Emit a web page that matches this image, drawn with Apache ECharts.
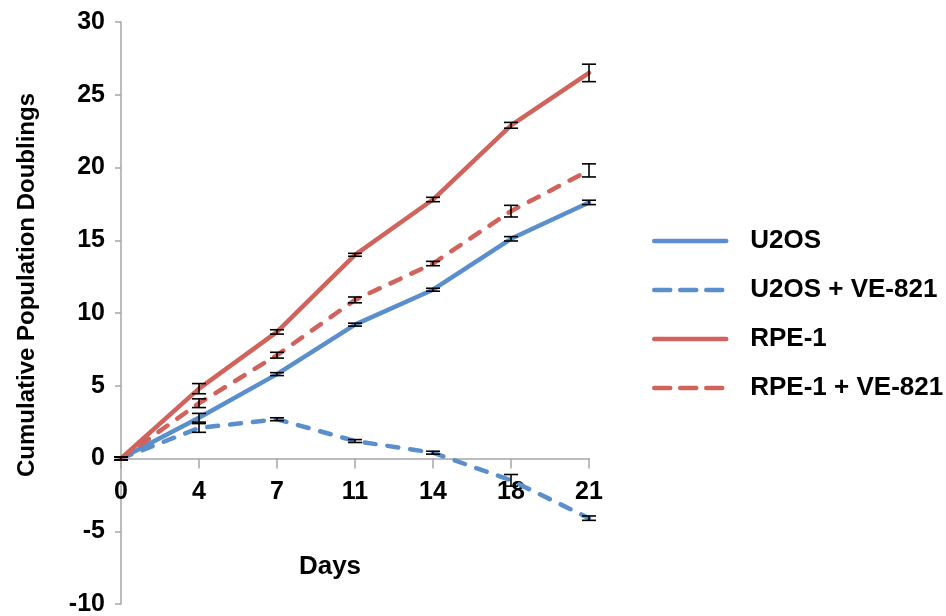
<!DOCTYPE html>
<html>
<head>
<meta charset="utf-8">
<script src="https://cdn.jsdelivr.net/npm/echarts@6/dist/echarts.min.js"></script>
<style>
  html, body { margin: 0; padding: 0; background: #fff; }
  #main { width: 946px; height: 616px; }
</style>
</head>
<body>
<div id="main"></div>
<script>
var days = ['0', '4', '7', '11', '14', '18', '21'];

var u2os = [0, 2.8, 5.8, 9.2, 11.6, 15.1, 17.6];
var u2osErr = [0.1, 0.3, 0.1, 0.1, 0.1, 0.15, 0.15];
var u2osVe = [0, 2.1, 2.7, 1.2, 0.4, -1.5, -4.1];
var u2osVeErr = [0.1, 0.3, 0.1, 0.1, 0.1, 0.4, 0.15];
var rpe = [0, 4.8, 8.7, 14.0, 17.8, 22.9, 26.5];
var rpeErr = [0.1, 0.35, 0.15, 0.1, 0.15, 0.2, 0.6];
var rpeVe = [0, 3.8, 7.1, 10.9, 13.4, 17.0, 19.8];
var rpeVeErr = [0.1, 0.3, 0.2, 0.2, 0.15, 0.4, 0.45];

var blue = '#5b8fcb';
var red = '#d0635b';
var font = 'Liberation Sans, Arial, sans-serif';

function lineSeries(name, data, color, dashed) {
    return {
        name: name,
        type: 'line',
        data: data,
        symbol: 'none',
        z: 3,
        lineStyle: {
            color: color,
            width: 4.5,
            type: dashed ? [11, 12] : 'solid',
            cap: 'round'
        },
        itemStyle: { color: color }
    };
}

function errSeries(vals, errs) {
    var d = [];
    for (var i = 0; i < vals.length; i++) {
        d.push([i, vals[i] - errs[i], vals[i] + errs[i]]);
    }
    return {
        type: 'custom',
        data: d,
        z: 5,
        silent: true,
        renderItem: function (params, api) {
            var lo = api.coord([api.value(0), api.value(1)]);
            var hi = api.coord([api.value(0), api.value(2)]);
            var w = 7;
            var st = { stroke: '#000', lineWidth: 1.6 };
            return {
                type: 'group',
                children: [
                    { type: 'line', shape: { x1: lo[0], y1: lo[1], x2: hi[0], y2: hi[1] }, style: st },
                    { type: 'line', shape: { x1: lo[0] - w, y1: lo[1], x2: lo[0] + w, y2: lo[1] }, style: st },
                    { type: 'line', shape: { x1: hi[0] - w, y1: hi[1], x2: hi[0] + w, y2: hi[1] }, style: st }
                ]
            };
        }
    };
}

var legendDash = { type: [16, 10], width: 4.5, cap: 'round' };

var myChart = echarts.init(document.getElementById('main'));
var option = {
    animation: false,
    backgroundColor: '#fff',
    grid: { left: 121, right: 357, top: 22, bottom: 12, containLabel: false, outerBoundsMode: 'none' },
    legend: {
        orient: 'vertical',
        left: 647,
        top: 223,
        itemWidth: 72,
        itemHeight: 14,
        itemGap: 23,
        itemStyle: { opacity: 0 },
        lineStyle: { width: 4.5, cap: 'round' },
        textStyle: { fontFamily: font, fontWeight: 'bold', fontSize: 26, color: '#000', padding: [0, 0, 0, 19] },
        data: [
            { name: 'U2OS' },
            { name: 'U2OS + VE-821', lineStyle: legendDash },
            { name: 'RPE-1' },
            { name: 'RPE-1 + VE-821', lineStyle: legendDash }
        ]
    },
    xAxis: {
        type: 'category',
        data: days,
        boundaryGap: false,
        name: 'Days',
        nameLocation: 'middle',
        nameGap: -50,
        nameTextStyle: { fontFamily: font, fontWeight: 'bold', fontSize: 26, color: '#000', padding: [0, 50, 0, 0] },
        axisLine: { onZero: true, lineStyle: { color: '#a6a6a6', width: 1.5 } },
        axisTick: { show: true, alignWithLabel: true, length: 10, lineStyle: { color: '#a6a6a6', width: 1.5 } },
        axisLabel: { margin: -124, fontFamily: font, fontWeight: 'bold', fontSize: 25, color: '#000' },
        splitLine: { show: false }
    },
    yAxis: {
        type: 'value',
        min: -10,
        max: 30,
        interval: 5,
        name: 'Cumulative Population Doublings',
        nameLocation: 'middle',
        nameGap: 82,
        nameTextStyle: { fontFamily: font, fontWeight: 'bold', fontSize: 24, color: '#000', padding: [0, 0, 0, 56] },
        axisLine: { show: true, lineStyle: { color: '#a6a6a6', width: 1.5 } },
        axisTick: { show: true, length: 6, lineStyle: { color: '#a6a6a6', width: 1.5 } },
        axisLabel: { margin: 16, fontFamily: font, fontWeight: 'bold', fontSize: 25, color: '#000' },
        splitLine: { show: false }
    },
    series: [
        lineSeries('U2OS', u2os, blue, false),
        lineSeries('U2OS + VE-821', u2osVe, blue, true),
        lineSeries('RPE-1', rpe, red, false),
        lineSeries('RPE-1 + VE-821', rpeVe, red, true),
        errSeries(u2os, u2osErr),
        errSeries(u2osVe, u2osVeErr),
        errSeries(rpe, rpeErr),
        errSeries(rpeVe, rpeVeErr)
    ]
};
myChart.setOption(option);
</script>
</body>
</html>
